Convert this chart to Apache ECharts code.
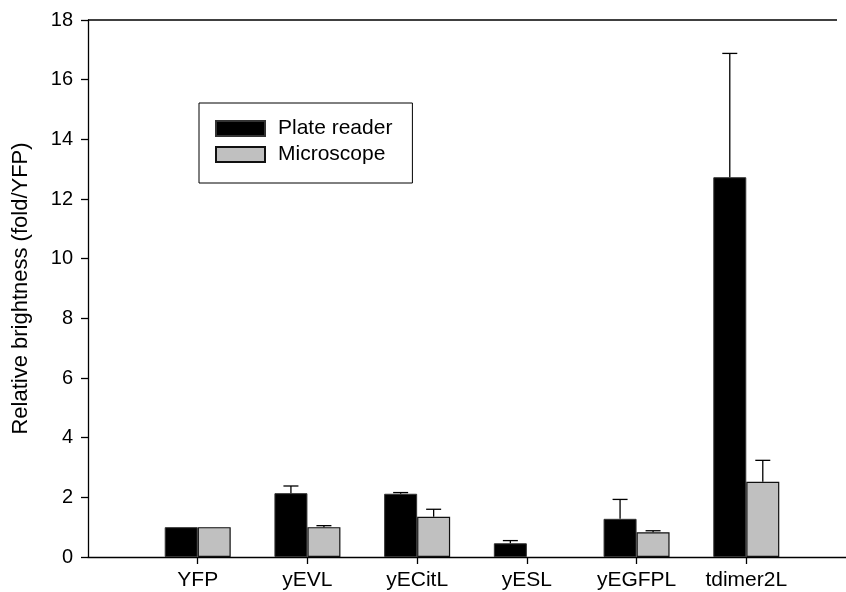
<!DOCTYPE html>
<html>
<head>
<meta charset="utf-8">
<script src="https://cdn.jsdelivr.net/npm/echarts@6/dist/echarts.min.js"></script>
<style>
html,body{margin:0;padding:0;background:#fff;}
#chart{width:846px;height:592px;}
</style>
</head>
<body>
<div id="chart"></div>
<script>
// Data (blank slots at both ends keep the category spacing of the original)
const categories = ['', 'YFP', 'yEVL', 'yECitL', 'yESL', 'yEGFPL', 'tdimer2L', ''];
const plateReader = [null, 1.00, 2.14, 2.12, 0.46, 1.28, 12.73, null];
const plateReaderErr = [null, 0, 0.24, 0.04, 0.09, 0.65, 4.15, null];
const microscope = [null, 1.00, 1.00, 1.35, null, 0.83, 2.52, null];
const microscopeErr = [null, 0, 0.05, 0.25, null, 0.05, 0.72, null];
const yTicks = { min: 0, max: 18, interval: 2 };
const seriesNames = ['Plate reader', 'Microscope'];

const FONT = 'Liberation Sans, Arial, Helvetica, sans-serif';
const BAR_W = 33;

function errData(vals, errs) {
  const out = [];
  vals.forEach((v, i) => {
    if (v != null && errs[i] != null && errs[i] > 0) out.push([i, v, errs[i]]);
  });
  return out;
}

function errRender(offset) {
  return function (params, api) {
    const i = api.value(0), v = api.value(1), e = api.value(2);
    const base = api.coord([i, v]);
    const top = api.coord([i, v + e]);
    const x = base[0] + offset;
    const style = { stroke: '#000', lineWidth: 1.3 };
    return {
      type: 'group',
      children: [
        { type: 'line', shape: { x1: x, y1: base[1], x2: x, y2: top[1] }, style: style },
        { type: 'line', shape: { x1: x - 7.5, y1: top[1], x2: x + 7.5, y2: top[1] }, style: style }
      ]
    };
  };
}

const chart = echarts.init(document.getElementById('chart'), null, { renderer: 'canvas' });
chart.setOption({
  animation: false,
  backgroundColor: '#fff',
  textStyle: { fontFamily: FONT },
  grid: { left: 88, width: 768, top: 20, bottom: 35, containLabel: false, outerBoundsMode: 'none' },
  legend: {
    data: seriesNames,
    orient: 'vertical',
    left: 199,
    top: 103,
    borderColor: '#000',
    borderWidth: 1,
    padding: [15, 20, 18, 16],
    itemWidth: 49,
    itemHeight: 15,
    itemGap: 5,
    icon: 'rect',
    textStyle: { fontSize: 21, color: '#000', fontFamily: FONT, padding: [0, 0, 0, 8] }
  },
  xAxis: {
    type: 'category',
    data: categories,
    boundaryGap: false,
    axisLine: { lineStyle: { color: '#000', width: 1.3 } },
    axisTick: {
      length: 7,
      lineStyle: { color: '#000', width: 1.3 },
      interval: function (idx, val) { return val !== ''; }
    },
    axisLabel: { color: '#000', fontSize: 21, fontFamily: FONT, margin: 13, interval: 0 },
    splitLine: { show: false }
  },
  yAxis: {
    type: 'value',
    min: yTicks.min,
    max: yTicks.max,
    interval: yTicks.interval,
    name: 'Relative brightness (fold/YFP)',
    nameLocation: 'middle',
    nameGap: 56,
    nameTextStyle: { color: '#000', fontSize: 22, fontFamily: FONT },
    axisLine: { show: true, lineStyle: { color: '#000', width: 1.3 } },
    axisTick: { show: true, length: 7, lineStyle: { color: '#000', width: 1.3 } },
    axisLabel: { color: '#000', fontSize: 20, fontFamily: FONT, margin: 15 },
    splitLine: { show: false }
  },
  graphic: [
    { id: 'frame', type: 'line', shape: { x1: 88, y1: 20, x2: 837, y2: 20 }, style: { stroke: '#000', lineWidth: 1.3 }, z: 10 }
  ],
  series: [
    {
      name: seriesNames[0],
      type: 'bar',
      data: plateReader,
      barWidth: BAR_W,
      barGap: '0%',
      itemStyle: { color: '#000', borderColor: '#333', borderWidth: 1 }
    },
    {
      name: seriesNames[1],
      type: 'bar',
      data: microscope,
      barWidth: BAR_W,
      barGap: '0%',
      itemStyle: { color: '#c0c0c0', borderColor: '#111', borderWidth: 1.2 }
    },
    {
      type: 'custom',
      renderItem: errRender(-BAR_W / 2),
      data: errData(plateReader, plateReaderErr),
      z: 5,
      silent: true
    },
    {
      type: 'custom',
      renderItem: errRender(BAR_W / 2),
      data: errData(microscope, microscopeErr),
      z: 5,
      silent: true
    }
  ]
});
</script>
</body>
</html>
